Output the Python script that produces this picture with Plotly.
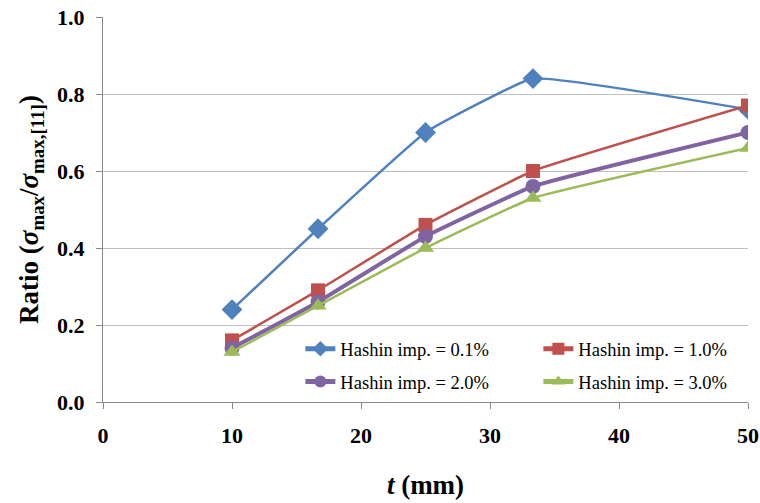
import plotly.graph_objects as go

# Plate thickness t (mm)
thickness = [10, 16.67, 25, 33.33, 50]

# Stress ratio for each Hashin imperfection level
ratio_01 = [0.24, 0.45, 0.70, 0.84, 0.76]
ratio_10 = [0.16, 0.29, 0.46, 0.60, 0.77]
ratio_20 = [0.14, 0.26, 0.43, 0.56, 0.70]
ratio_30 = [0.13, 0.25, 0.40, 0.53, 0.66]

series_names = [
    "Hashin imp. = 0.1%",
    "Hashin imp. = 1.0%",
    "Hashin imp. = 2.0%",
    "Hashin imp. = 3.0%",
]

x_ticks = [0, 10, 20, 30, 40, 50]
y_ticks = [0.0, 0.2, 0.4, 0.6, 0.8, 1.0]

styles = [
    dict(color="#4F81BD", symbol="diamond", size=16, width=2.5),
    dict(color="#C0504D", symbol="square", size=14, width=2.5),
    dict(color="#8064A2", symbol="circle", size=15, width=4),
    dict(color="#9BBB59", symbol="triangle-up", size=15, width=2.5),
]
# two legend rows, two entries each
legend_ids = ["legend", "legend", "legend2", "legend2"]

fig = go.Figure()
for name, ys, st, lg in zip(series_names, [ratio_01, ratio_10, ratio_20, ratio_30], styles, legend_ids):
    fig.add_trace(go.Scatter(
        x=thickness, y=ys, name=name, mode="lines+markers", legend=lg,
        line=dict(color=st["color"], width=st["width"], shape="spline", smoothing=0.3),
        marker=dict(symbol=st["symbol"], size=st["size"], color=st["color"]),
    ))

serif = "Liberation Serif, Times New Roman, serif"

legend_common = dict(
    orientation="h", x=0.306, xanchor="left", yanchor="middle",
    entrywidth=193, entrywidthmode="pixels", itemsizing="constant",
    font=dict(family=serif, size=18.5, color="black"),
    bgcolor="rgba(0,0,0,0)", borderwidth=0,
)

fig.update_layout(
    width=760, height=503,
    margin=dict(l=103, r=12, t=17, b=101, autoexpand=False),
    paper_bgcolor="white", plot_bgcolor="white",
    font=dict(family=serif, color="black"),
    showlegend=True,
    legend=dict(y=0.137, **legend_common),
    legend2=dict(y=0.052, **legend_common),
    xaxis=dict(
        range=[0, 50.0001], tickvals=x_ticks, ticks="outside", ticklen=6,
        tickcolor="#888888", showline=True, linecolor="#888888", linewidth=1,
        showgrid=False, zeroline=False, ticklabelstandoff=8,
        tickfont=dict(family=serif, size=22, weight="bold"),
        title=dict(text="<i>t</i> (mm)", font=dict(family=serif, size=27, weight="bold"), standoff=27),
    ),
    yaxis=dict(
        range=[0, 1.0], tickvals=y_ticks, tickformat=".1f", ticks="outside", ticklen=6,
        tickcolor="#888888", showline=True, linecolor="#888888", linewidth=1,
        showgrid=True, gridcolor="#BFBFBF", gridwidth=1, zeroline=False,
        ticklabelstandoff=7,
        tickfont=dict(family=serif, size=22, weight="bold"),
        title=dict(
            text="Ratio (<i>σ</i><sub>max</sub>/<i>σ</i><sub>max,[11]</sub>)",
            font=dict(family=serif, size=27, weight="bold"), standoff=10,
        ),
    ),
)

fig.write_html("out.html")
